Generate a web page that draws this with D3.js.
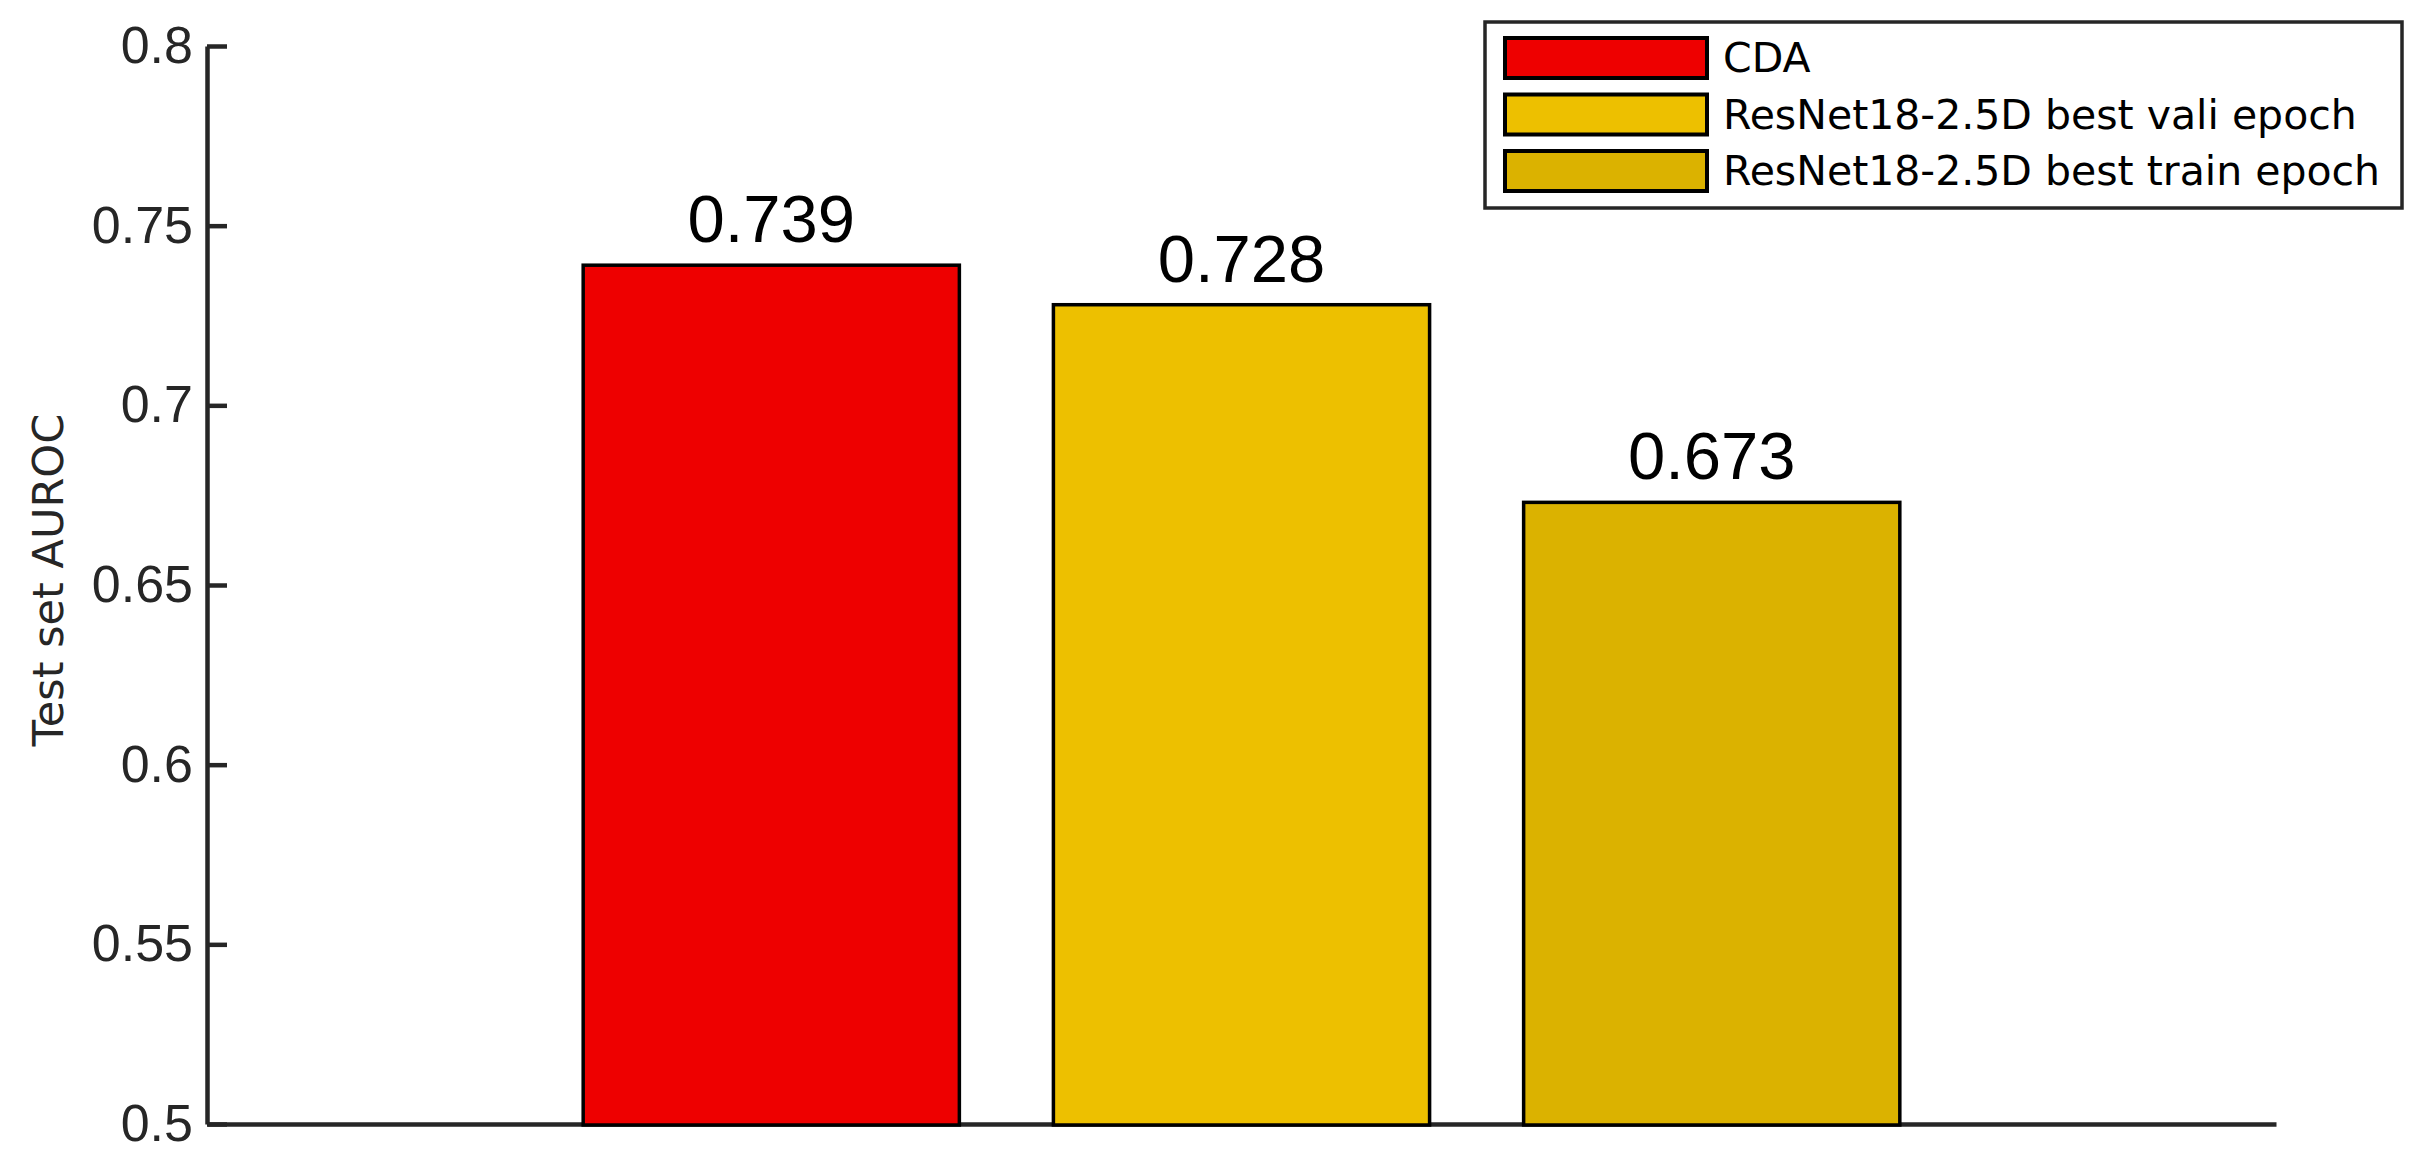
<!DOCTYPE html>
<html>
<head>
<meta charset="utf-8">
<script src="https://cdn.jsdelivr.net/npm/d3@7"></script>
<style>
  body { margin: 0; background: #fff; }
  svg { display: block; }
</style>
</head>
<body>
<script>
// chart data
const categories = ["CDA", "ResNet18-2.5D best vali epoch", "ResNet18-2.5D best train epoch"];
const values = [0.739, 0.728, 0.673];
const valueLabels = ["0.739", "0.728", "0.673"];
const barColors = ["#ee0000", "#edc000", "#dbb200"];
const yTicks = [0.5, 0.55, 0.6, 0.65, 0.7, 0.75, 0.8];
const yTickLabels = ["0.5", "0.55", "0.6", "0.65", "0.7", "0.75", "0.8"];

const W = 2414, H = 1168;
const axisColor = "#262626";

const svg = d3.select("body").append("svg")
    .attr("width", W)
    .attr("height", H);

const x = d3.scaleBand()
    .domain(categories)
    .range([207, 2276])
    .paddingInner(0.2)
    .paddingOuter(0.8);

const y = d3.scaleLinear()
    .domain([0.5, 0.8])
    .range([1124, 46]);

// x axis: just the base line
let gx = svg.append("g")
    .attr("transform", `translate(0, ${y(0.5)})`)
    .call(d3.axisBottom(x).tickSize(0).tickSizeOuter(0).tickFormat(""));
gx.select(".domain").attr("stroke", axisColor).attr("stroke-width", 4.5);

// y axis, ticks pointing inward like matlab
let gy = svg.append("g")
    .attr("transform", `translate(207, 0)`)
    .call(d3.axisLeft(y)
        .tickValues(yTicks)
        .tickFormat((d, i) => yTickLabels[i])
        .tickSizeInner(-20)
        .tickSizeOuter(0)
        .tickPadding(14));
gy.select(".domain").attr("stroke", axisColor).attr("stroke-width", 4.5);
gy.selectAll(".tick line").attr("stroke", axisColor).attr("stroke-width", 4.5);
gy.selectAll(".tick text")
    .attr("fill", axisColor)
    .attr("font-family", "'Liberation Sans', Arial, sans-serif")
    .attr("font-size", 52);

// bars
svg.selectAll("rect.bar")
    .data(values)
    .enter()
    .append("rect")
    .attr("class", "bar")
    .attr("x", (d, i) => x(categories[i]))
    .attr("y", (d) => y(d))
    .attr("width", x.bandwidth())
    .attr("height", (d) => y(0.5) - y(d) + 1)
    .attr("fill", (d, i) => barColors[i])
    .attr("stroke", "#000")
    .attr("stroke-width", 3.5);

// value labels on top
svg.selectAll("text.val")
    .data(values)
    .enter()
    .append("text")
    .attr("class", "val")
    .attr("x", (d, i) => x(categories[i]) + x.bandwidth() / 2)
    .attr("y", (d) => y(d) - 23)
    .attr("text-anchor", "middle")
    .attr("font-family", "'Liberation Sans', Arial, sans-serif")
    .attr("font-size", 67)
    .attr("fill", "#000")
    .text((d, i) => valueLabels[i]);

// y label
svg.append("text")
    .attr("transform", "translate(63, 580) rotate(-90)")
    .attr("text-anchor", "middle")
    .attr("font-family", "'DejaVu Sans', sans-serif")
    .attr("font-size", 43)
    .attr("fill", axisColor)
    .text("Test set AUROC");

// legend
let legend = svg.append("g");
legend.append("rect")
    .attr("x", 1485)
    .attr("y", 22)
    .attr("width", 2402 - 1485)
    .attr("height", 208 - 22)
    .attr("fill", "#fff")
    .attr("stroke", axisColor)
    .attr("stroke-width", 3.5);

const rowY = d3.scalePoint().domain(categories).range([58, 171]);

legend.selectAll("rect.sw")
    .data(categories)
    .enter()
    .append("rect")
    .attr("class", "sw")
    .attr("x", 1505)
    .attr("y", (d) => rowY(d) - 20)
    .attr("width", 202)
    .attr("height", 40)
    .attr("fill", (d, i) => barColors[i])
    .attr("stroke", "#000")
    .attr("stroke-width", 4);

legend.selectAll("text.lg")
    .data(categories)
    .enter()
    .append("text")
    .attr("class", "lg")
    .attr("x", 1723)
    .attr("y", (d) => rowY(d) + 14)
    .attr("font-family", "'DejaVu Sans', sans-serif")
    .attr("font-size", 41)
    .attr("fill", "#000")
    .text((d) => d);
</script>
</body>
</html>
